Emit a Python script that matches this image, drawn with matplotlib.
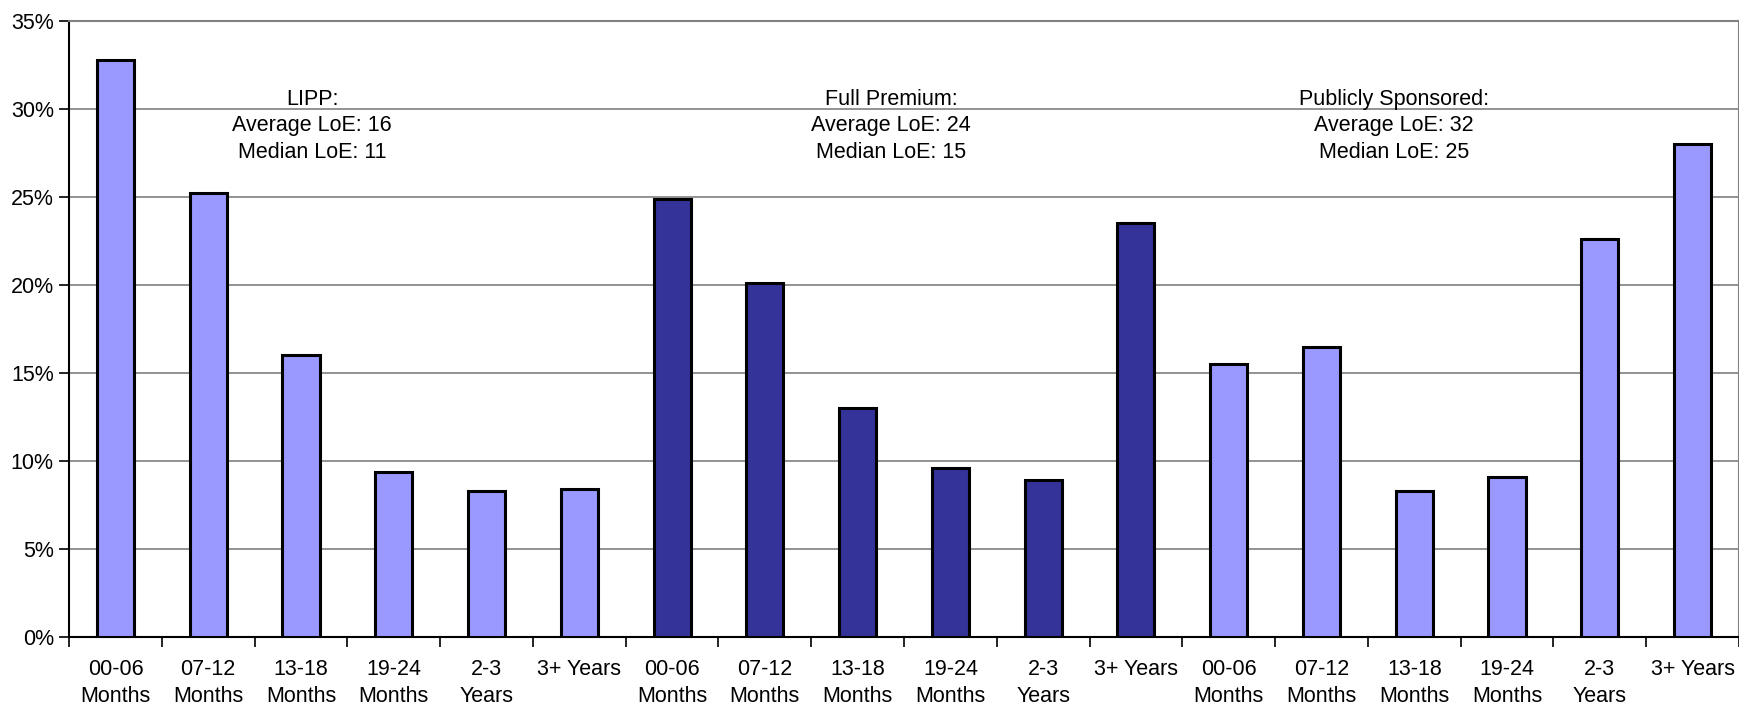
import numpy as np
import matplotlib.pyplot as plt
from matplotlib.ticker import FuncFormatter

plt.rcParams['font.family'] = ['Liberation Sans', 'DejaVu Sans']

# length of enrollment buckets, repeated for each program
buckets = ['00-06\nMonths', '07-12\nMonths', '13-18\nMonths',
           '19-24\nMonths', '2-3\nYears', '3+ Years']
lipp = [32.8, 25.2, 16.0, 9.4, 8.3, 8.4]
full_premium = [24.9, 20.1, 13.0, 9.6, 8.9, 23.5]
public = [15.5, 16.5, 8.3, 9.1, 22.6, 28.0]

notes = ['LIPP:\nAverage LoE: 16\nMedian LoE: 11',
         'Full Premium:\nAverage LoE: 24\nMedian LoE: 15',
         'Publicly Sponsored:\nAverage LoE: 32\nMedian LoE: 25']

light = '#9999FF'
dark = '#333399'

fig = plt.figure(figsize=(17.4, 7.06), dpi=100)
ax = fig.add_axes([0.0397, 0.0977, 0.9597, 0.8726])

values = lipp + full_premium + public
colors = [light] * 6 + [dark] * 6 + [light] * 6
x = np.arange(len(values))
ax.bar(x, values, width=0.4, color=colors, edgecolor='black', linewidth=2.2, zorder=3)

ax.set_xlim(-0.5, len(values) - 0.5)
ax.set_ylim(0, 35)
ax.set_yticks(np.arange(0, 36, 5))
ax.yaxis.set_major_formatter(FuncFormatter(lambda v, p: '%d%%' % v))
ax.grid(axis='y', color='#808080', linewidth=1.2, zorder=0)

# category labels go between the boundary ticks
ax.set_xticks(np.arange(-0.5, len(values), 1.0))
ax.set_xticklabels([])
ax.set_xticks(x, minor=True)
ax.set_xticklabels(buckets * 3, minor=True, va='top', ha='center', linespacing=1.35)
ax.tick_params(axis='x', which='minor', length=0, pad=16, labelsize=15.5)
ax.tick_params(axis='x', which='major', length=7, width=1.2, direction='out')
ax.tick_params(axis='y', length=7, width=1.2, direction='out', labelsize=15.5, pad=4)

for s in ['top', 'right']:
    ax.spines[s].set_color('#808080')
    ax.spines[s].set_linewidth(1.5)
for s in ['left', 'bottom']:
    ax.spines[s].set_color('black')
    ax.spines[s].set_linewidth(1.5)

for nx, txt in zip([2.12, 8.36, 13.78], notes):
    ax.text(nx, 29.05, txt, ha='center', va='center', fontsize=15.5, linespacing=1.35, zorder=4)

fig.savefig('out.png', dpi=100)
